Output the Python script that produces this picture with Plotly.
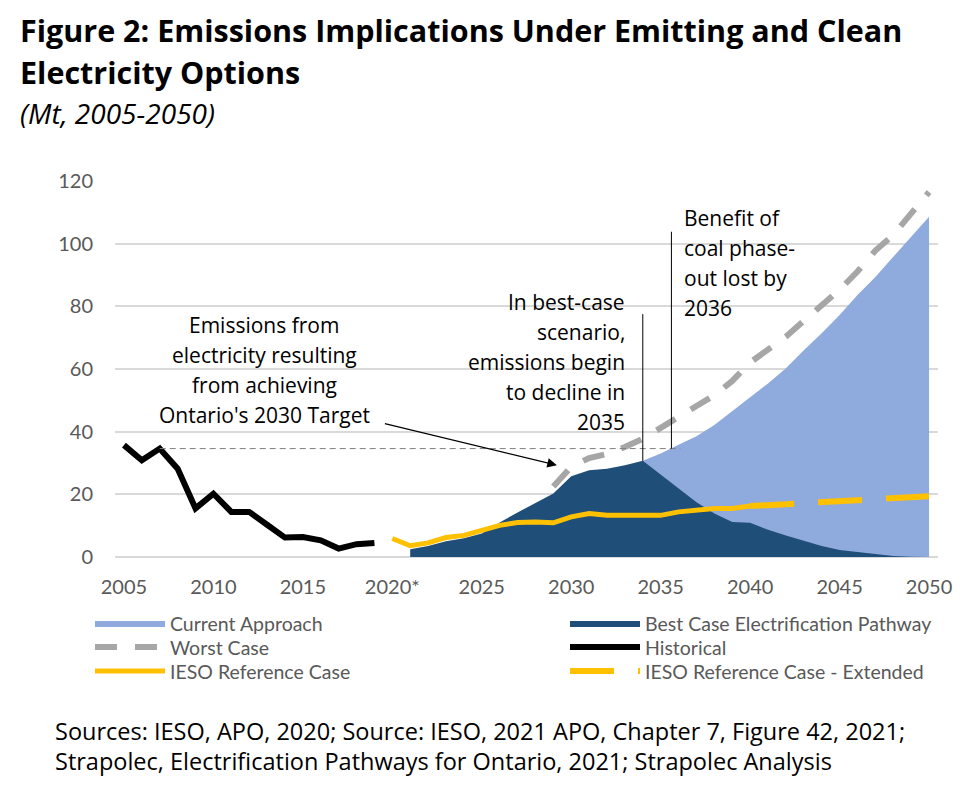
import plotly.graph_objects as go

# ---------------- data (Mt) ----------------
hist_years = list(range(2005, 2020))
hist_values = [35.7, 30.9, 34.6, 28.2, 15.5, 20.2, 14.4, 14.4, 10.3, 6.2,
               6.4, 5.3, 2.7, 4.1, 4.5]

ieso_years = list(range(2020, 2041))
ieso_values = [5.9, 3.6, 4.5, 6.2, 6.9, 8.3, 10.1, 11.0, 11.2, 10.9, 12.8,
               13.9, 13.3, 13.3, 13.3, 13.3, 14.4, 14.9, 15.5, 15.5, 16.3]

ieso_ext_years = list(range(2040, 2051))
ieso_ext_values = [16.3, 16.4, 16.8, 17.2, 17.5, 17.9, 18.2, 18.5, 18.8, 19.0, 19.4]

best_years = list(range(2021, 2051))
best_values = [2.5, 3.5, 5.0, 6.0, 7.5, 11.0, 14.2, 17.2, 20.3, 25.8,
               27.7, 28.2, 29.3, 30.7, 26.2, 21.8, 17.5, 13.9, 11.2, 10.9,
               8.7, 6.9, 5.1, 3.5, 2.2, 1.6, 1.0, 0.3, 0.1, 0.0]

current_years = list(range(2034, 2051))
current_values = [30.7, 33.0, 35.8, 38.5, 42.1, 46.5, 50.8, 55.4, 60.2,
                  66.0, 71.4, 77.2, 83.6, 89.4, 95.8, 102.2, 108.6]

worst_years = list(range(2029, 2051))
worst_values = [22.5, 28.8, 31.6, 32.9, 35.1, 37.7, 41.2, 44.9, 48.2, 51.6,
                56.2, 62.1, 66.3, 70.3, 75.4, 80.3, 85.3, 91.1, 97.8, 102.8,
                110.0, 116.5]

target_level = 34.6
target_span = [2007, 2036.1]

x_tick_vals = [2005, 2010, 2015, 2020, 2025, 2030, 2035, 2040, 2045, 2050]
x_tick_text = ["2005", "2010", "2015", "2020*", "2025", "2030", "2035", "2040", "2045", "2050"]
y_tick_vals = [0, 20, 40, 60, 80, 100, 120]

# ---------------- layout helpers (page pixel coordinates) ----------------
OFF = 8                      # default body margin of the html page
PAGE_W, PAGE_H = 970, 796
W, H = PAGE_W - OFF, PAGE_H - OFF
L, R, T, B = 115, 938, 181, 556.7
FONT = "Lato, 'Open Sans', sans-serif"
FONT2 = "'Open Sans', Lato, sans-serif"

def px(xp):
    return (xp - L) / (R - L)

def py(yp):
    return (B - yp) / (B - T)

fig = go.Figure()

fig.add_trace(go.Scatter(x=current_years, y=current_values, name="Current Approach",
                         mode="lines", fill="tozeroy", fillcolor="#8FAADC",
                         line=dict(width=0, color="#8FAADC"), legend="legend",
                         showlegend=True))
fig.add_trace(go.Scatter(x=best_years, y=best_values, name="Best Case Electrification Pathway",
                         mode="lines", fill="tozeroy", fillcolor="#1F4E79",
                         line=dict(width=0, color="#1F4E79"), legend="legend2"))
fig.add_trace(go.Scatter(x=worst_years, y=worst_values, name="Worst Case", mode="lines",
                         line=dict(width=6, color="#A6A6A6", dash="22px,18px"),
                         legend="legend3"))
fig.add_trace(go.Scatter(x=hist_years, y=hist_values, name="Historical", mode="lines",
                         line=dict(width=6, color="#000000"), legend="legend4"))
fig.add_trace(go.Scatter(x=ieso_years, y=ieso_values, name="IESO Reference Case", mode="lines",
                         line=dict(width=5, color="#FFC000"), legend="legend5"))
fig.add_trace(go.Scatter(x=ieso_ext_years, y=ieso_ext_values, name="IESO Reference Case - Extended",
                         mode="lines", line=dict(width=6, color="#FFC000", dash="44px,24px"),
                         legend="legend6"))

shapes = [
    dict(type="line", xref="x", yref="y", x0=target_span[0], x1=target_span[1],
         y0=target_level, y1=target_level, line=dict(color="#7F7F7F", width=1, dash="6px,4px")),
    dict(type="line", xref="x", yref="y", x0=2034, x1=2034, y0=30.7, y1=77.5,
         line=dict(color="#000000", width=1)),
    dict(type="line", xref="x", yref="y", x0=2035.6, x1=2035.6, y0=target_level, y1=103.8,
         line=dict(color="#000000", width=1)),
]

ann = []

def text_line(txt, xp, yp, anchor="left", size=20, color="#000000", bold=False,
              italic=False, family=FONT2):
    if bold:
        txt = "<b>" + txt + "</b>"
    if italic:
        txt = "<i>" + txt + "</i>"
    ann.append(dict(text=txt, x=px(xp), y=py(yp), xref="paper", yref="paper",
                    xanchor=anchor, yanchor="middle", showarrow=False,
                    font=dict(family=family, size=size, color=color)))

# Title
text_line("Figure 2: Emissions Implications Under Emitting and Clean", 18, 30, size=30.5, bold=True)
text_line("Electricity Options", 18, 72, size=30.5, bold=True)
text_line("(Mt, 2005-2050)", 18, 113, size=28, italic=True)

# Annotation 1
for i, t in enumerate(["Emissions from", "electricity resulting", "from achieving",
                       "Ontario's 2030 Target"]):
    text_line(t, 264, 325 + 30 * i, anchor="center", size=21)
# Annotation 2
for i, t in enumerate(["In best-case", "scenario,", "emissions begin", "to decline in", "2035"]):
    text_line(t, 627, 302 + 30 * i, anchor="right", size=21)
# Annotation 3
for i, t in enumerate(["Benefit of", "coal phase-", "out lost by", "2036"]):
    text_line(t, 682, 218 + 30 * i, anchor="left", size=21)

# Sources
text_line("Sources: IESO, APO, 2020; Source: IESO, 2021 APO, Chapter 7, Figure 42, 2021;",
          53, 731, size=23.5)
text_line("Strapolec, Electrification Pathways for Ontario, 2021; Strapolec Analysis",
          53, 761, size=23.5)

# Arrow
ann.append(dict(x=2029.2, y=29.3, ax=2019.5, ay=42.7, xref="x", yref="y", axref="x", ayref="y",
                text="", showarrow=True, arrowhead=2, arrowsize=1.6, arrowwidth=1.2,
                arrowcolor="#000000"))

LEG_FONT = dict(family=FONT, size=19.5, color="#595959")

def leg(xp, yp):
    return dict(x=px(xp), y=py(yp), xanchor="left", yanchor="middle", orientation="v",
                font=LEG_FONT, itemwidth=70, tracegroupgap=0, bgcolor="rgba(0,0,0,0)",
                visible=True)

fig.update_layout(
    width=W, height=H,
    showlegend=True,
    margin=dict(l=L - OFF, r=PAGE_W - R, t=T - OFF, b=PAGE_H - B),
    paper_bgcolor="white", plot_bgcolor="white",
    font=dict(family=FONT, size=20, color="#595959"),
    xaxis=dict(range=[2004.5, 2050.5], tickvals=x_tick_vals, ticktext=x_tick_text,
               showgrid=False, zeroline=False, showline=False, ticks="",
               ticklabelstandoff=16, tickfont=dict(size=20, color="#595959")),
    yaxis=dict(range=[0, 120], tickvals=y_tick_vals, showgrid=True, gridcolor="#D9D9D9",
               gridwidth=1.5, zeroline=True, zerolinecolor="#D9D9D9", zerolinewidth=1.5,
               showline=False, ticks="", ticklabelstandoff=21,
               tickfont=dict(size=20, color="#595959")),
    shapes=shapes,
    annotations=ann,
    legend=leg(90, 623),
    legend2=leg(565, 623),
    legend3=leg(90, 647),
    legend4=leg(565, 647),
    legend5=leg(90, 671),
    legend6=leg(565, 671),
)

fig.write_html("out.html")
